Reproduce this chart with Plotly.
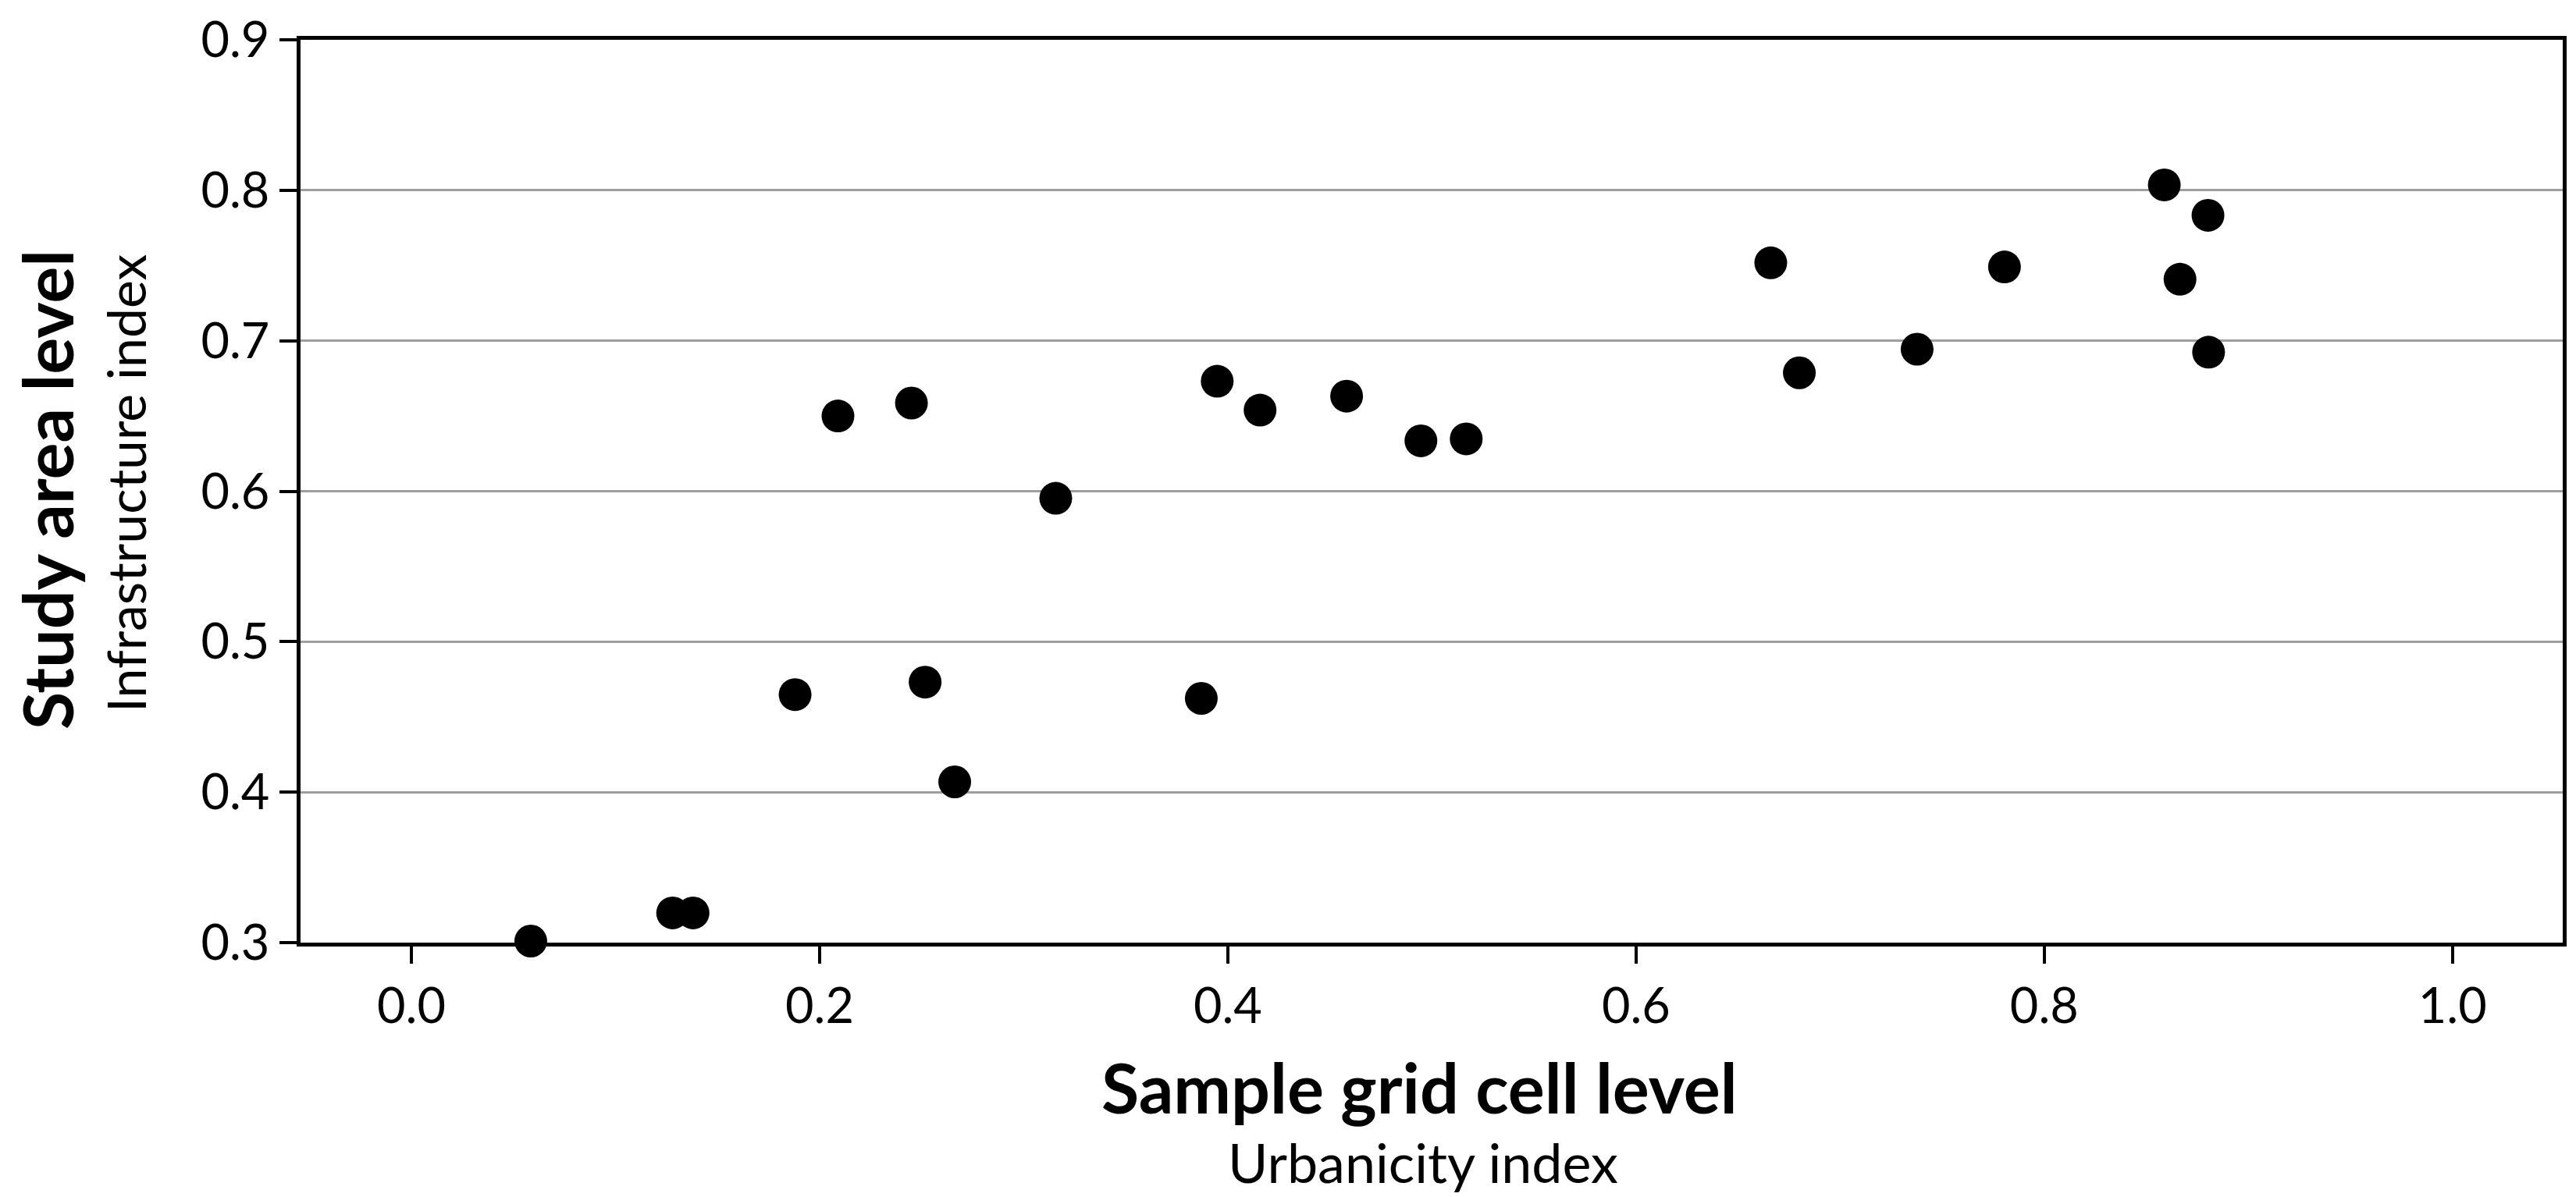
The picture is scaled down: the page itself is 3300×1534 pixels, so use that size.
import plotly.graph_objects as go

# Data
urbanicity = [0.0585, 0.128, 0.138, 0.188, 0.209, 0.245, 0.2517, 0.2662, 0.3157,
              0.387, 0.3948, 0.4158, 0.4582, 0.4946, 0.5168,
              0.666, 0.680, 0.7377, 0.7805, 0.8588, 0.8802, 0.8665, 0.8805]
infrastructure = [0.301, 0.3197, 0.3197, 0.4648, 0.650, 0.6586, 0.4731, 0.4068, 0.5953,
                  0.4623, 0.6731, 0.6539, 0.6632, 0.6335, 0.6348,
                  0.7518, 0.6787, 0.6944, 0.7491, 0.8036, 0.7834, 0.7409, 0.6924]

x_ticks = [0.0, 0.2, 0.4, 0.6, 0.8, 1.0]
x_tick_labels = ["0.0", "0.2", "0.4", "0.6", "0.8", "1.0"]
y_ticks = [0.3, 0.4, 0.5, 0.6, 0.7, 0.8, 0.9]
y_tick_labels = ["0.3", "0.4", "0.5", "0.6", "0.7", "0.8", "0.9"]

x_title_main = "Sample grid cell level"
x_title_sub = "Urbanicity index"
y_title_main = "Study area level"
y_title_sub = "Infrastructure index"

W, H = 3300, 1534
L, R, T, B = 377, 25, 43, 334
PW, PH = W - L - R, H - T - B

def px_to_paper_x(px):
    return (px - L) / PW

def px_to_paper_y(py):
    return (H - B - py) / PH

FONT = "Lato"

fig = go.Figure()
fig.add_trace(go.Scatter(
    x=urbanicity, y=infrastructure, mode="markers",
    marker=dict(size=42, color="black", line=dict(width=0)),
    cliponaxis=False, showlegend=False, hoverinfo="x+y",
))

fig.update_layout(
    width=W, height=H,
    margin=dict(l=L, r=R, t=T, b=B, pad=0, autoexpand=False),
    paper_bgcolor="white", plot_bgcolor="white",
    font=dict(family=FONT, color="black"),
    xaxis=dict(
        range=[-0.0543, 1.054], tickvals=x_ticks, ticktext=x_tick_labels,
        showgrid=False, zeroline=False,
        showline=True, linecolor="black", linewidth=5, mirror=True,
        ticks="outside", ticklen=22, tickwidth=4, tickcolor="black",
        tickfont=dict(family=FONT, size=63, color="black"),
        layer="below traces", automargin=False,
    ),
    yaxis=dict(
        range=[0.29995, 0.90005], tickvals=y_ticks, ticktext=y_tick_labels,
        showgrid=True, gridcolor="#9e9e9e", gridwidth=2.5, zeroline=False,
        showline=True, linecolor="black", linewidth=5, mirror=True,
        ticks="outside", ticklen=22, tickwidth=4, tickcolor="black",
        tickfont=dict(family=FONT, size=63, color="black"),
        ticklabeloverflow="allow",
        layer="below traces", automargin=False,
    ),
    annotations=[
        dict(text="<b>" + x_title_main + "</b>", xref="paper", yref="paper",
             x=px_to_paper_x(1810), y=px_to_paper_y(1385), xanchor="center", yanchor="middle",
             showarrow=False, font=dict(family=FONT, size=88, color="black")),
        dict(text=x_title_sub, xref="paper", yref="paper",
             x=px_to_paper_x(1815), y=px_to_paper_y(1481), xanchor="center", yanchor="middle",
             showarrow=False, font=dict(family=FONT, size=70, color="black")),
        dict(text="<b>" + y_title_main + "</b>", xref="paper", yref="paper",
             x=px_to_paper_x(52), y=px_to_paper_y(620), xanchor="center", yanchor="middle",
             textangle=-90, showarrow=False, font=dict(family=FONT, size=88, color="black")),
        dict(text=y_title_sub, xref="paper", yref="paper",
             x=px_to_paper_x(152), y=px_to_paper_y(612), xanchor="center", yanchor="middle",
             textangle=-90, showarrow=False, font=dict(family=FONT, size=68, color="black")),
    ],
)

fig.write_html("out.html")
